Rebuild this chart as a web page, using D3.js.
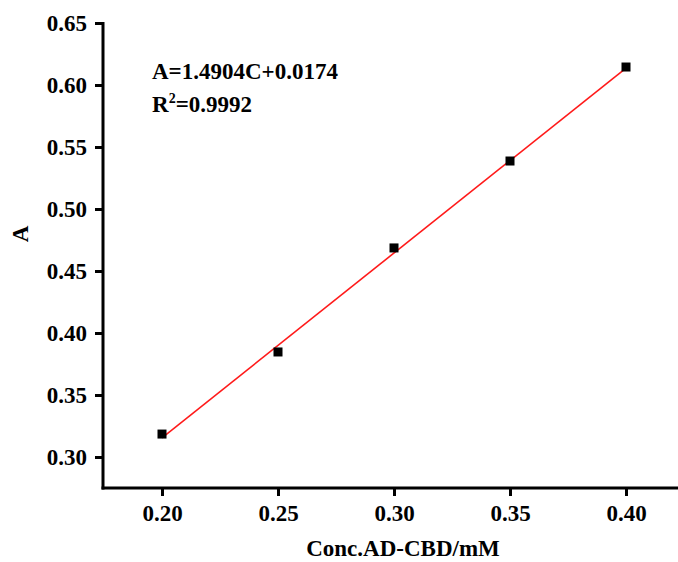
<!DOCTYPE html>
<html><head><meta charset="utf-8">
<script src="https://cdn.jsdelivr.net/npm/d3@7"></script>
<style>body{margin:0;background:#fff}svg{display:block}</style>
</head><body><svg id="c" width="678" height="562"></svg>
<script>
const concentrations = [0.20, 0.25, 0.30, 0.35, 0.40];
const absorbances = [0.3185, 0.3847, 0.4686, 0.5387, 0.6145];
const fitSlope = 1.4904, fitIntercept = 0.0174;
const xTicks = [0.20, 0.25, 0.30, 0.35, 0.40];
const yTicks = [0.30, 0.35, 0.40, 0.45, 0.50, 0.55, 0.60, 0.65];
const equationText = "A=1.4904C+0.0174";
const r2Text = "0.9992";
const xTitle = "Conc.AD-CBD/mM", yTitle = "A";

const svg = d3.select("#c");
const font = "'Liberation Serif','Times New Roman',serif";
const x = d3.scaleLinear().domain([0.20, 0.40]).range([162, 626]);
const y = d3.scaleLinear().domain([0.30, 0.65]).range([457, 23]);
const x0 = 103, yB = 488, xEnd = 680;

// axes
const xAxis = svg.append("g").attr("transform", `translate(0,${yB})`)
  .call(d3.axisBottom(x).tickValues(xTicks).tickFormat(d3.format(".2f")).tickSizeOuter(0).tickSize(8).tickPadding(9));
xAxis.select(".domain").remove();
svg.append("line").attr("x1", x0 - 1.5).attr("x2", xEnd).attr("y1", yB).attr("y2", yB).attr("stroke", "#000").attr("stroke-width", 3);
const yAxis = svg.append("g").attr("transform", `translate(${x0},0)`)
  .call(d3.axisLeft(y).tickValues(yTicks).tickFormat(d3.format(".2f")).tickSizeOuter(0).tickSize(8).tickPadding(8));
yAxis.select(".domain").remove();
svg.append("line").attr("x1", x0).attr("x2", x0).attr("y1", y(0.65) - 1).attr("y2", yB + 1.5).attr("stroke", "#000").attr("stroke-width", 3);
svg.selectAll(".tick line").attr("stroke", "#000").attr("stroke-width", 3);
svg.selectAll(".tick text").attr("fill", "#000").style("font-family", font).style("font-weight", "bold").style("font-size", "23px");

// fit line
svg.append("line")
  .attr("x1", x(0.20)).attr("y1", y(fitSlope * 0.20 + fitIntercept))
  .attr("x2", x(0.40)).attr("y2", y(fitSlope * 0.40 + fitIntercept))
  .attr("stroke", "#ff1a1a").attr("stroke-width", 1.6);

// points
const s = 9;
svg.selectAll("rect.pt").data(concentrations).enter().append("rect").attr("class", "pt")
  .attr("x", (d) => x(d) - s / 2).attr("y", (d, i) => y(absorbances[i]) - s / 2)
  .attr("width", s).attr("height", s).attr("fill", "#000");

// equation
svg.append("text").attr("x", 152).attr("y", 79).style("font-family", font).style("font-weight", "bold").style("font-size", "23px").text(equationText);
const r = svg.append("text").attr("x", 152).attr("y", 112).style("font-family", font).style("font-weight", "bold").style("font-size", "23px");
r.append("tspan").text("R");
r.append("tspan").attr("dy", -9).style("font-size", "14px").text("2");
r.append("tspan").attr("dy", 9).text("=" + r2Text);

// titles
svg.append("text").attr("x", 403).attr("y", 556).attr("text-anchor", "middle").style("font-family", font).style("font-weight", "bold").style("font-size", "23px").text(xTitle);
svg.append("text").attr("transform", "translate(28,234) rotate(-90)").attr("text-anchor", "middle").style("font-family", font).style("font-weight", "bold").style("font-size", "23px").text(yTitle);
</script></body></html>
